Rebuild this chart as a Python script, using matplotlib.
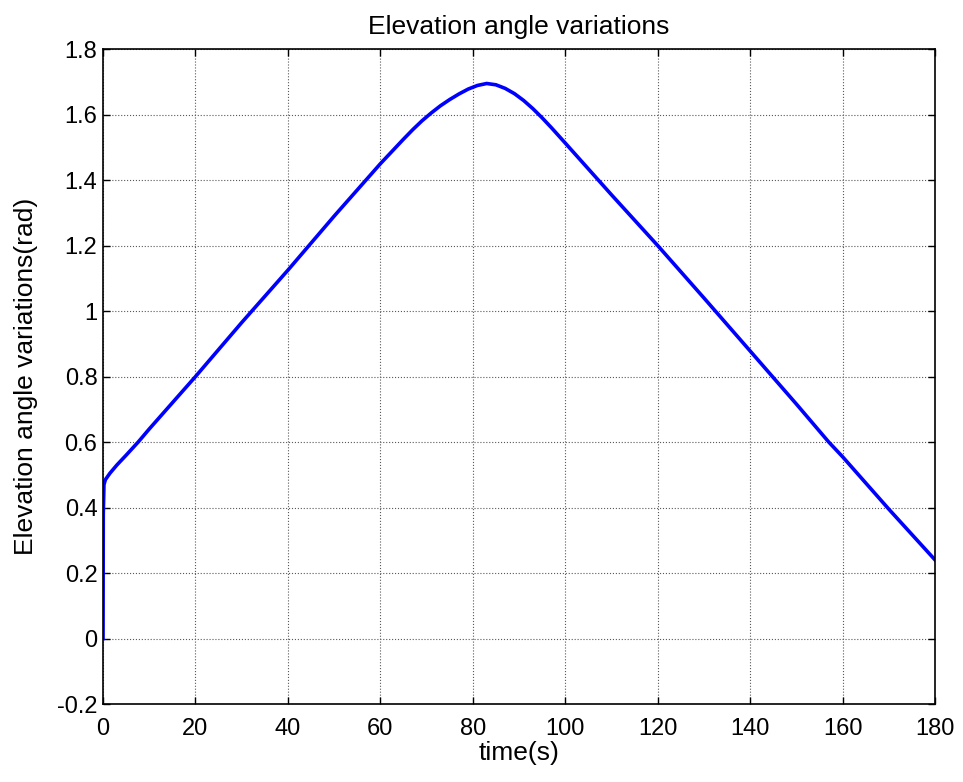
import numpy as np
import matplotlib
matplotlib.use('Agg')
import matplotlib.pyplot as plt

plt.rcParams['font.family'] = ['Liberation Sans', 'DejaVu Sans']

# elevation angle trace, read at irregular sample times
t = [0, 0.05, 0.2, 0.5, 1.5, 3, 5, 7.6, 10, 20, 30, 40, 50, 60, 65, 67,
     69, 71, 73, 75, 77, 79, 81, 83, 85, 87, 89, 91, 93, 95, 97, 100, 110,
     120, 130, 140, 150, 157, 160, 170, 180]
elev = [0, 0.38, 0.47, 0.485, 0.505, 0.53, 0.56, 0.6, 0.64, 0.80, 0.965,
        1.125, 1.29, 1.45, 1.525, 1.554, 1.581, 1.605, 1.627, 1.646, 1.663,
        1.678, 1.689, 1.695, 1.691, 1.680, 1.664, 1.643, 1.618, 1.590,
        1.560, 1.513, 1.355, 1.20, 1.04, 0.878, 0.716, 0.60, 0.555, 0.395,
        0.24]

xticks = [0, 20, 40, 60, 80, 100, 120, 140, 160, 180]
yticks = [-0.2, 0, 0.2, 0.4, 0.6, 0.8, 1, 1.2, 1.4, 1.6, 1.8]
ytick_labels = ['-0.2', '0', '0.2', '0.4', '0.6', '0.8', '1', '1.2', '1.4', '1.6', '1.8']

fig = plt.figure(figsize=(9.63, 7.82), dpi=100)
ax = fig.add_axes([0.107, 0.0997, 0.864, 0.8375])

ax.plot(t, elev, color='#0000ff', linewidth=2.6)

ax.set_xlim(0, 180)
ax.set_ylim(-0.2, 1.8)
ax.set_xticks(xticks)
ax.set_yticks(yticks)
ax.set_yticklabels(ytick_labels)
ax.tick_params(direction='in', top=True, right=True, labelsize=17, length=5, width=1)
ax.tick_params(axis='x', pad=10)
ax.tick_params(axis='y', pad=4)
ax.grid(True, linestyle=':', color='0.35', linewidth=0.8)
for s in ax.spines.values():
    s.set_linewidth(1.2)

ax.set_title('Elevation angle variations', fontsize=19, pad=11)
ax.set_xlabel('time(s)', fontsize=19, labelpad=1)
ax.set_ylabel('Elevation angle variations(rad)', fontsize=19, labelpad=14)

fig.savefig('out.png', dpi=100)
